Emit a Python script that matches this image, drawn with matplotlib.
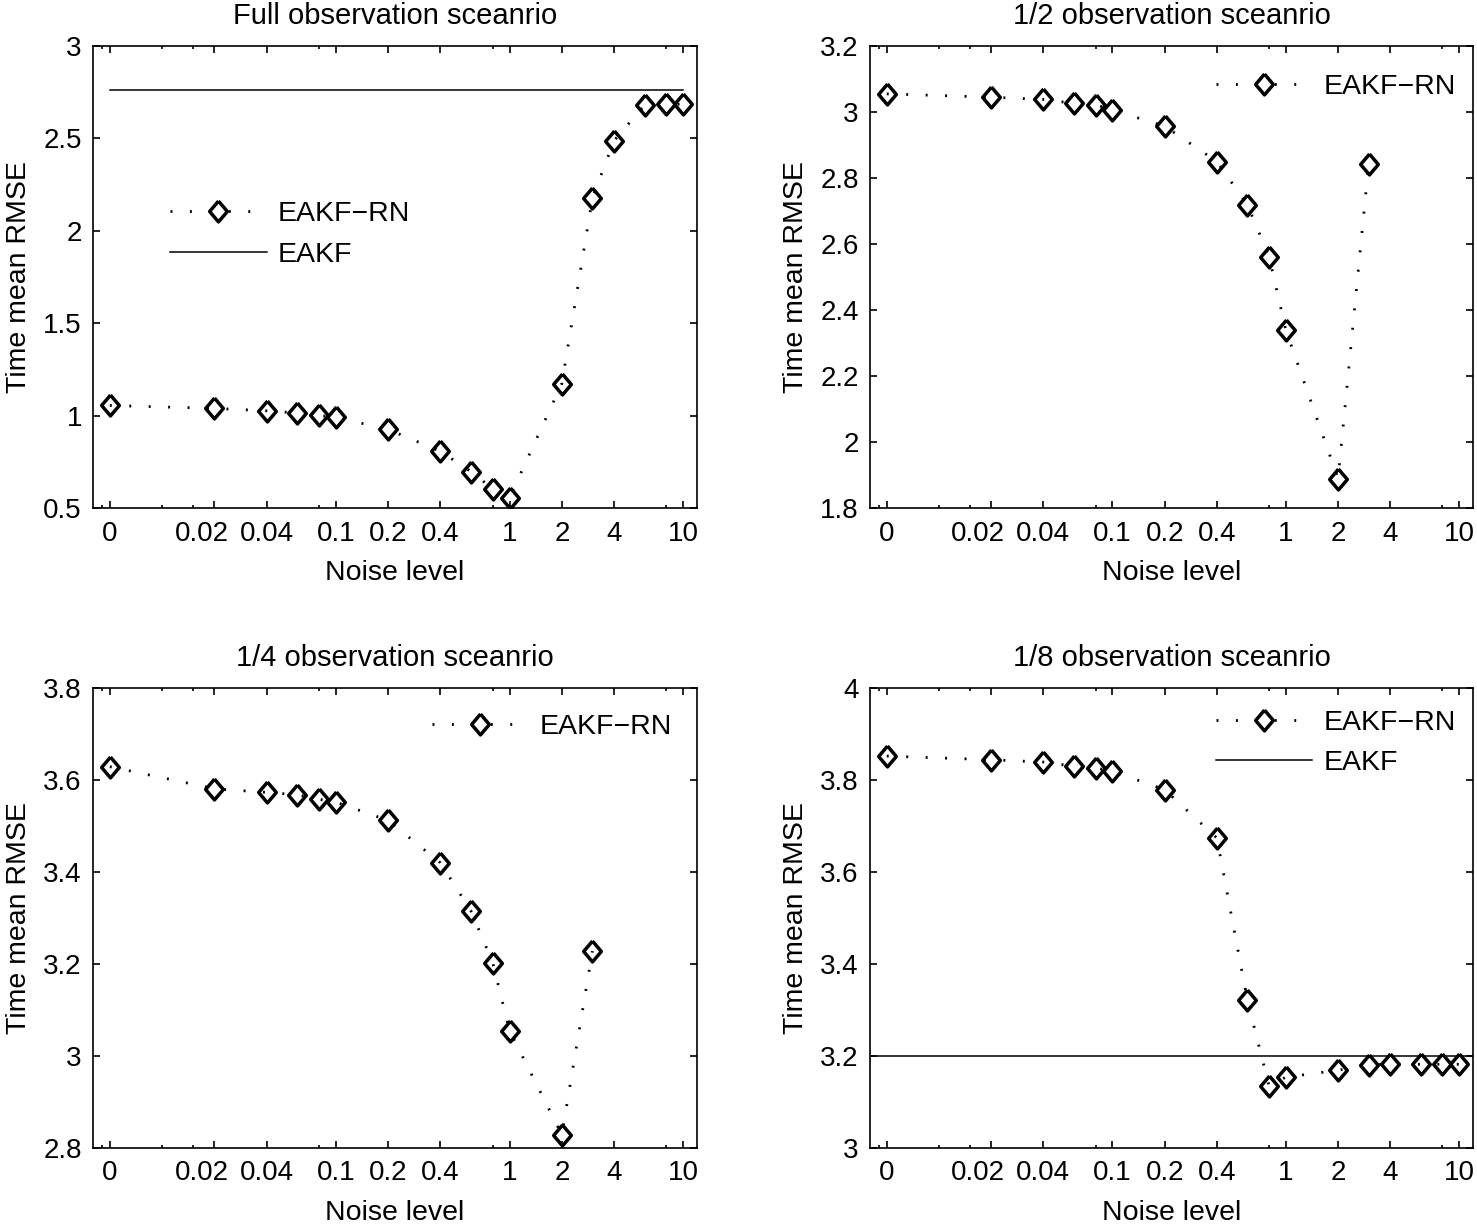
import numpy as np
import matplotlib
matplotlib.use("Agg")
import matplotlib.pyplot as plt
import matplotlib.transforms as mtransforms
from matplotlib.ticker import FixedLocator, FixedFormatter, FormatStrFormatter

plt.rcParams['font.family'] = ['Liberation Sans', 'DejaVu Sans']
plt.rcParams['font.size'] = 20

# noise levels (0 is drawn at 0.005 on the log axis)
noise = [0, 0.02, 0.04, 0.06, 0.08, 0.1, 0.2, 0.4, 0.6, 0.8, 1, 2, 3, 4, 6, 8, 10]
zero_pos = 0.005

tick_values = [0, 0.02, 0.04, 0.1, 0.2, 0.4, 1, 2, 4, 10]
tick_labels = ["0", "0.02", "0.04", "0.1", "0.2", "0.4", "1", "2", "4", "10"]
minor_values = [0.0045, 0.01, 0.015, 0.08, 0.8, 8]

full_rn = [1.055, 1.039, 1.026, 1.014, 1.001, 0.991, 0.925, 0.807, 0.697, 0.604,
           0.556, 1.173, 2.178, 2.488, 2.681, 2.685, 2.685]
full_eakf = 2.762

half_rn = [3.055, 3.045, 3.038, 3.026, 3.022, 3.006, 2.957, 2.850, 2.719, 2.562,
           2.339, 1.889, 2.841]

quarter_rn = [3.629, 3.581, 3.573, 3.568, 3.558, 3.552, 3.512, 3.420, 3.315, 3.203,
              3.055, 2.829, 3.228]

eighth_rn = [3.852, 3.844, 3.839, 3.830, 3.826, 3.819, 3.779, 3.674, 3.321, 3.135,
             3.154, 3.169, 3.181, 3.182, 3.182, 3.182, 3.182]
eighth_eakf = 3.200

titles = ["Full observation sceanrio", "1/2 observation sceanrio",
          "1/4 observation sceanrio", "1/8 observation sceanrio"]


def xpos(vals):
    v = np.array(vals, dtype=float)
    v[v == 0] = zero_pos
    return v


diamond = [(0, 1), (0.85, 0), (0, -1), (-0.85, 0), (0, 1)]
rn_style = dict(color="black", linestyle=(0, (0.7, 6.3)), linewidth=2,
                marker=diamond, markersize=15, markeredgewidth=2.5,
                markerfacecolor="none", markeredgecolor="black")

W, H = 1477., 1224.
fig = plt.figure(figsize=(W / 100, H / 100), dpi=100)
boxes = [(93, 46, 697, 508), (870, 46, 1473, 508),
         (93, 688, 697, 1148), (870, 688, 1473, 1148)]
axes = []
for (l, t, r, b) in boxes:
    axes.append(fig.add_axes([l / W, 1 - b / H, (r - l) / W, (b - t) / H]))


def style(ax, title, ylim, ystep):
    ax.set_xscale("log")
    ax.set_xlim(0.004, 12)
    ax.set_ylim(*ylim)
    ax.xaxis.set_major_locator(FixedLocator(xpos(tick_values)))
    ax.xaxis.set_major_formatter(FixedFormatter(tick_labels))
    ax.xaxis.set_minor_locator(FixedLocator(minor_values))
    ax.xaxis.set_minor_formatter(FixedFormatter([""] * len(minor_values)))
    ax.yaxis.set_major_locator(FixedLocator(np.arange(ylim[0], ylim[1] + 1e-9, ystep)))
    ax.yaxis.set_major_formatter(FormatStrFormatter("%g"))
    ax.tick_params(which="both", direction="in", top=True, right=True, width=1.2)
    ax.tick_params(which="major", length=5, labelsize=20)
    ax.tick_params(axis="x", which="major", pad=9)
    ax.tick_params(axis="y", which="major", pad=8)
    ax.tick_params(which="minor", length=2.5)
    for s in ax.spines.values():
        s.set_linewidth(1.2)
    ax.set_title(title, fontsize=21, pad=16)
    ax.set_xlabel("Noise level", fontsize=20.5, labelpad=10)
    ax.set_ylabel("Time mean RMSE", fontsize=20.5, labelpad=8)
    # the 0.02 label sits a little left of its tick in the original
    shift = mtransforms.ScaledTranslation(-13 / 100, 0, fig.dpi_scale_trans)
    lab = ax.get_xticklabels()[1]
    lab.set_transform(lab.get_transform() + shift)


leg_kw = dict(frameon=False, fontsize=20.5, handlelength=3.4, handletextpad=0.4,
              borderpad=0, borderaxespad=0, labelspacing=0.5, numpoints=1)

# full observation
ax = axes[0]
ax.plot(xpos(noise), full_rn, label="EAKF\u2212RN", **rn_style)
ax.plot(xpos(noise), [full_eakf] * len(noise), color="black", linewidth=1.1, label="EAKF")
style(ax, titles[0], (0.5, 3), 0.5)
ax.legend(loc="center left", bbox_to_anchor=(0.127, 0.592), **leg_kw)

# 1/2 observation
ax = axes[1]
ax.plot(xpos(noise[:len(half_rn)]), half_rn, label="EAKF\u2212RN", **rn_style)
style(ax, titles[1], (1.8, 3.2), 0.2)
ax.legend(loc="center right", bbox_to_anchor=(0.972, 0.912), **leg_kw)

# 1/4 observation
ax = axes[2]
ax.plot(xpos(noise[:len(quarter_rn)]), quarter_rn, label="EAKF\u2212RN", **rn_style)
style(ax, titles[2], (2.8, 3.8), 0.2)
ax.legend(loc="center right", bbox_to_anchor=(0.959, 0.915), **leg_kw)

# 1/8 observation
ax = axes[3]
ax.plot(xpos(noise), eighth_rn, label="EAKF\u2212RN", **rn_style)
ax.axhline(eighth_eakf, color="black", linewidth=1.1, label="EAKF")
style(ax, titles[3], (3.0, 4.0), 0.2)
ax.legend(loc="center right", bbox_to_anchor=(0.972, 0.880), **leg_kw)

fig.savefig("out.png", dpi=100)
